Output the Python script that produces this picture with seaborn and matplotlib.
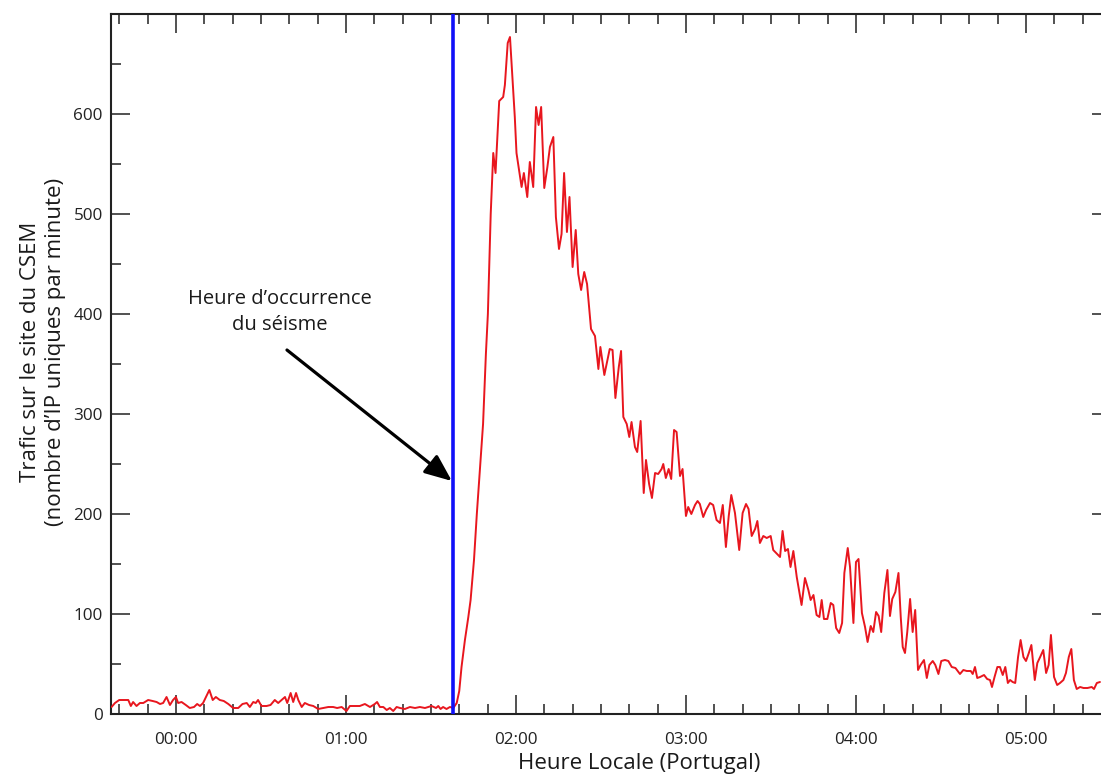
import matplotlib
matplotlib.use("Agg")
import matplotlib.pyplot as plt
import matplotlib.ticker as mticker
import seaborn as sns
import pandas as pd

# ---- data (minutes after 00:00 local time, unique IPs per minute) ----
minutes = [
    -22.7, -21.5, -20.0, -18.6, -16.8, -15.9, -15.1, -13.9, -12.7, -11.5,
    -9.8, -8.2, -6.8, -5.6, -4.5, -3.3, -2.1, -1.0, 0.0, 0.8,
    2.0, 3.5, 4.9, 6.4, 7.5, 8.5, 9.6, 10.6, 11.8, 13.0,
    14.1, 15.5, 16.9, 18.5, 20.2, 22.0, 23.5, 25.0, 26.1, 27.3,
    28.2, 29.0, 30.2, 32.0, 33.4, 34.9, 36.1, 37.3, 38.5, 39.3,
    40.5, 41.4, 42.4, 43.2, 44.4, 45.5, 47.0, 48.5, 50.2, 52.0,
    53.8, 55.5, 56.9, 58.5, 60.2, 61.4, 63.2, 64.9, 66.7, 68.5,
    70.2, 71.0, 72.0, 73.2, 74.4, 75.5, 76.7, 77.9, 79.1, 80.8,
    82.6, 84.4, 86.1, 87.9, 89.0, 90.2, 91.8, 92.6, 93.4, 94.3,
    95.5, 96.7, 97.9, 99.1, 100.0, 100.8, 102.0, 103.2, 104.0, 105.2,
    106.2, 107.3, 108.4, 109.4, 110.1, 111.1, 112.0, 112.8, 114.1, 115.5,
    116.1, 117.1, 117.9, 119.6, 120.2, 122.0, 122.8, 124.0, 124.9, 126.1,
    127.1, 128.0, 128.9, 130.0, 131.1, 132.0, 133.2, 134.1, 135.2, 136.1,
    137.0, 138.0, 138.9, 140.0, 141.1, 142.0, 143.0, 144.1, 145.1, 146.5,
    147.9, 149.1, 149.8, 151.2, 153.1, 154.1, 155.1, 156.3, 157.1, 157.9,
    159.1, 160.0, 160.8, 162.0, 162.8, 164.0, 165.1, 165.9, 167.0, 168.0,
    169.1, 170.2, 171.4, 172.0, 172.9, 173.9, 174.8, 175.8, 176.7, 177.9,
    178.8, 180.0, 180.8, 181.9, 183.2, 184.1, 184.9, 186.1, 187.1, 188.5,
    189.6, 190.8, 192.0, 193.0, 194.1, 195.1, 196.0, 197.3, 198.8, 200.0,
    201.2, 202.1, 203.2, 204.4, 205.2, 206.1, 207.3, 208.5, 209.9, 210.8,
    213.2, 214.1, 215.0, 216.0, 216.9, 217.9, 219.1, 220.8, 222.0, 223.2,
    224.0, 225.0, 226.1, 227.1, 227.9, 228.7, 229.9, 231.1, 232.0, 233.0,
    234.1, 235.1, 235.9, 237.1, 237.9, 239.1, 240.0, 240.9, 242.1, 243.2,
    244.1, 245.2, 246.1, 247.1, 248.0, 248.9, 250.0, 251.1, 252.0, 252.8,
    253.9, 255.0, 255.8, 256.5, 257.3, 258.1, 259.1, 260.0, 260.9, 261.9,
    262.8, 264.0, 265.0, 265.9, 267.1, 268.0, 269.1, 270.1, 271.4, 272.6,
    273.8, 275.1, 276.7, 277.9, 279.1, 280.5, 281.2, 282.0, 282.8, 283.8,
    285.2, 286.3, 287.3, 288.0, 288.9, 289.9, 290.8, 291.8, 292.7, 293.6,
    294.4, 295.3, 296.2, 297.2, 298.1, 299.1, 300.0, 301.0, 301.9, 303.1,
    304.0, 305.0, 306.1, 307.1, 308.0, 308.8, 309.9, 311.0, 312.0, 313.2,
    314.1, 315.1, 316.0, 316.9, 317.9, 319.1, 320.3, 321.7, 323.2, 324.0,
    325.0, 326.1,
]
traffic = [
    7, 11, 14, 14, 14, 8, 12, 8, 11, 11,
    14, 13, 12, 10, 11, 17, 9, 14, 17, 11,
    12, 9, 6, 7, 10, 8, 11, 17, 24, 14,
    17, 14, 13, 10, 6, 6, 10, 11, 7, 12,
    11, 14, 8, 8, 9, 14, 11, 14, 17, 11,
    21, 12, 21, 14, 7, 11, 9, 8, 5, 6,
    7, 7, 6, 7, 3, 8, 8, 8, 10, 7,
    10, 12, 7, 7, 4, 6, 3, 7, 6, 5,
    7, 6, 7, 6, 7, 8, 6, 8, 5, 7,
    5, 7, 6, 11, 23, 47, 74, 97, 114, 154,
    200, 245, 290, 360, 400, 500, 561, 541, 613, 617,
    629, 671, 677, 597, 561, 527, 541, 517, 552, 527,
    607, 589, 607, 526, 547, 567, 577, 497, 465, 480,
    541, 482, 517, 447, 484, 440, 424, 442, 430, 385,
    378, 345, 367, 339, 365, 364, 316, 347, 363, 297,
    290, 277, 292, 267, 262, 293, 221, 254, 230, 216,
    241, 240, 245, 250, 236, 245, 235, 284, 282, 238,
    245, 198, 207, 200, 209, 213, 210, 197, 204, 211,
    209, 194, 191, 209, 167, 198, 219, 201, 164, 201,
    210, 205, 178, 185, 193, 171, 178, 176, 178, 164,
    157, 183, 163, 165, 147, 163, 137, 109, 136, 124,
    114, 119, 99, 97, 114, 95, 95, 111, 109, 86,
    81, 91, 141, 166, 147, 91, 152, 155, 101, 87,
    72, 88, 82, 102, 98, 82, 121, 144, 98, 115,
    122, 141, 97, 67, 61, 82, 115, 82, 104, 44,
    49, 54, 36, 49, 53, 49, 40, 53, 54, 53,
    47, 46, 40, 44, 43, 43, 40, 47, 36, 37,
    39, 35, 34, 27, 37, 47, 47, 39, 47, 31,
    34, 32, 31, 57, 74, 57, 53, 61, 69, 34,
    51, 57, 64, 41, 49, 79, 37, 29, 31, 34,
    41, 57, 65, 34, 25, 27, 26, 26, 27, 25,
    31, 32,
]
quake_minute = 97.8
hour_ticks = [0, 60, 120, 180, 240, 300]
hour_labels = ["00:00", "01:00", "02:00", "03:00", "04:00", "05:00"]
y_ticks = [0, 100, 200, 300, 400, 500, 600]
y_labels = ["0", "100", "200", "300", "400", "500", "600"]
x_range = (-22.9, 330.0)
y_range = (0, 700)

df = pd.DataFrame({"minute": minutes, "traffic": traffic})

# ---- style ----
sns.set_style("ticks")
plt.rcParams["font.family"] = ["Open Sans", "DejaVu Sans"]

W, H = 1101, 774
fig = plt.figure(figsize=(W / 100, H / 100), dpi=100)
ax = fig.add_axes([111 / W, (H - 714) / H, 1000 / W, 700 / H])

sns.lineplot(data=df, x="minute", y="traffic", ax=ax, color="#e8161e",
             linewidth=1.4, zorder=3)
ax.axvline(quake_minute, color="#1010f8", linewidth=2.6, zorder=4)

ax.set_xlim(*x_range)
ax.set_ylim(*y_range)
ax.set_xlabel("")
ax.set_ylabel("")

ax.xaxis.set_major_locator(mticker.FixedLocator(hour_ticks))
ax.xaxis.set_major_formatter(mticker.FixedFormatter(hour_labels))
ax.xaxis.set_minor_locator(mticker.MultipleLocator(10))
ax.yaxis.set_major_locator(mticker.FixedLocator(y_ticks + [700]))
ax.yaxis.set_major_formatter(mticker.FixedFormatter(y_labels + [""]))
ax.yaxis.set_minor_locator(mticker.MultipleLocator(50))

for side in ["left", "right", "top", "bottom"]:
    ax.spines[side].set_visible(True)
    ax.spines[side].set_color("#222222")
    ax.spines[side].set_linewidth(1.5)

ax.tick_params(which="both", direction="in", top=True, right=True,
               color="#222222", width=1.1, labelsize=12.3, labelcolor="#222222")
ax.tick_params(which="major", length=13.5)
ax.tick_params(which="minor", length=7.2)
ax.tick_params(axis="x", which="major", pad=13)
ax.tick_params(axis="y", which="major", pad=6)

# annotation
ax.text(36.7, 402, "Heure d\u2019occurrence\ndu s\u00e9isme", ha="center", va="center",
        multialignment="center", fontsize=14.5, color="#1a1a1a", linespacing=1.42)
ax.annotate("", xy=(97.4, 233), xytext=(39.2, 364),
            arrowprops=dict(arrowstyle="-|>,head_length=0.55,head_width=0.23",
                            lw=2.3, color="black",
                            mutation_scale=30, shrinkA=0, shrinkB=0))

# axis titles
fig.text(639 / W, 5 / H, "Heure Locale (Portugal)", ha="center", va="baseline",
         fontsize=16, color="#1a1a1a")
fig.text(43 / W, (H - 352) / H,
         "Trafic sur le site du CSEM\n(nombre d\u2019IP uniques par minute)",
         rotation=90, ha="center", va="center", multialignment="center",
         fontsize=16, color="#1a1a1a", linespacing=1.2)

fig.savefig("out.png", dpi=100)
